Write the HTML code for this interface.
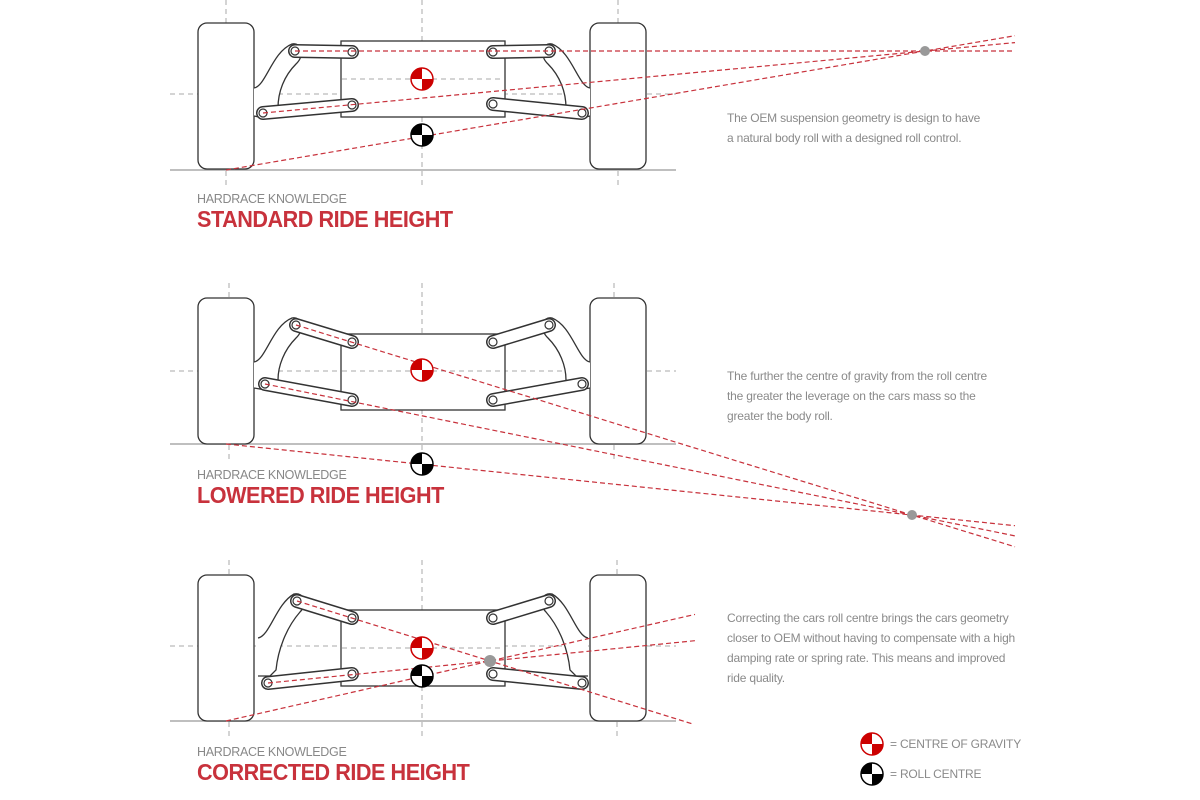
<!DOCTYPE html>
<html><head><meta charset="utf-8"><style>
body{margin:0;background:#fff;width:1200px;height:800px;overflow:hidden;font-family:"Liberation Sans",sans-serif}
svg{position:absolute;left:0;top:0}
.t{position:absolute;color:#8a8a8a;font-size:12px;line-height:20px;letter-spacing:-0.2px}
.k{position:absolute;color:#888;font-size:12.5px;letter-spacing:-0.3px}
.h{position:absolute;color:#c8323c;font-size:23px;font-weight:bold;letter-spacing:-0.5px;transform:scaleX(0.94);transform-origin:left}
</style></head><body>
<svg width="1200" height="800" viewBox="0 0 1200 800">
<defs>
<g id="cg"><circle r="11" fill="#fff" stroke="#c00" stroke-width="1.5"/><path d="M0,0 L-11,0 A11,11 0 0 1 0,-11Z M0,0 L11,0 A11,11 0 0 1 0,11Z" fill="#c00"/></g>
<g id="rc"><circle r="11" fill="#fff" stroke="#000" stroke-width="1.5"/><path d="M0,0 L-11,0 A11,11 0 0 1 0,-11Z M0,0 L11,0 A11,11 0 0 1 0,11Z" fill="#000"/></g>
<g id="wheels" fill="#fff" stroke="#333" stroke-width="1.3">
<rect x="198" y="0" width="56" height="146" rx="9"/><rect x="590" y="0" width="56" height="146" rx="9"/></g>
</defs>
<g stroke="#aaa" stroke-dasharray="5,4" stroke-width="1" fill="none">
<path d="M226,0V185 M422,0V185 M618,0V185 M170,94H676 M229,283V460 M422,283V460 M614,283V460 M170,371H676 M229,560V736 M422,560V736 M617,560V736 M170,646H676"/>
</g>
<g stroke="#999" stroke-width="1.3"><path d="M170,170H676 M170,444H676 M170,721H676"/></g>

<!-- PANEL 1 -->
<use href="#wheels" y="23"/>
<g fill="#fff" stroke="#333" stroke-width="1.3">
<rect x="341" y="41" width="164" height="76"/>
<path d="M254,88 C266,86 272,52 292,44 C302,42 305,56 296,64 C284,76 278,92 278,108 L264,118 L254,116"/>
<path d="M590,88 C578,86 572,52 552,44 C542,42 539,56 548,64 C560,76 566,92 566,108 L580,118 L590,116"/>
</g>
<g stroke-linecap="round" fill="none">
<path d="M295,51L352,52 M493,52L549,51 M263,113L352,105 M493,104L582,113" stroke="#333" stroke-width="14"/>
<path d="M295,51L352,52 M493,52L549,51 M263,113L352,105 M493,104L582,113" stroke="#fff" stroke-width="11"/>
</g>
<g fill="#fff" stroke="#333" stroke-width="1.2"><circle cx="295" cy="51" r="4"/><circle cx="352" cy="52" r="4"/><circle cx="493" cy="52" r="4"/><circle cx="549" cy="51" r="4"/><circle cx="263" cy="113" r="4"/><circle cx="352" cy="105" r="4"/><circle cx="493" cy="104" r="4"/><circle cx="582" cy="113" r="4"/></g>
<path d="M342,79H502" stroke="#aaa" stroke-dasharray="5,4"/>
<g stroke="#c8323c" stroke-dasharray="5,3" stroke-width="1.2" fill="none">
<path d="M295,51L1015,51 M263,113L1015,42.6 M226,170L1015,35.7"/>
</g>
<circle cx="925" cy="51" r="5" fill="#999"/>
<use href="#cg" x="422" y="79"/><use href="#rc" x="422" y="135"/>

<!-- PANEL 2 -->
<use href="#wheels" y="298"/>
<g fill="#fff" stroke="#333" stroke-width="1.3">
<rect x="341" y="334" width="164" height="76"/>
<path d="M254,362 C266,360 272,326 292,318 C302,316 305,330 296,338 C284,350 278,366 278,380 L266,390 L254,388"/>
<path d="M590,362 C578,360 572,326 552,318 C542,316 539,330 548,338 C560,350 566,366 566,380 L578,390 L590,388"/>
</g>
<g stroke-linecap="round" fill="none">
<path d="M296,325L352,342 M493,342L549,325 M265,384L352,400 M493,400L582,384" stroke="#333" stroke-width="14"/>
<path d="M296,325L352,342 M493,342L549,325 M265,384L352,400 M493,400L582,384" stroke="#fff" stroke-width="11"/>
</g>
<g fill="#fff" stroke="#333" stroke-width="1.2"><circle cx="296" cy="325" r="4"/><circle cx="352" cy="342" r="4"/><circle cx="493" cy="342" r="4"/><circle cx="549" cy="325" r="4"/><circle cx="265" cy="384" r="4"/><circle cx="352" cy="400" r="4"/><circle cx="493" cy="400" r="4"/><circle cx="582" cy="384" r="4"/></g>
<path d="M342,371H502" stroke="#aaa" stroke-dasharray="5,4"/>
<g stroke="#c8323c" stroke-dasharray="5,3" stroke-width="1.2" fill="none">
<path d="M296,325L1015,546.8 M265,384L1015,535.9 M226,444L1015,525.7"/>
</g>
<circle cx="912" cy="515" r="5" fill="#999"/>
<use href="#cg" x="422" y="370"/><use href="#rc" x="422" y="464"/>

<!-- PANEL 3 -->
<use href="#wheels" y="575"/>
<g fill="#fff" stroke="#333" stroke-width="1.3">
<rect x="341" y="610" width="164" height="76"/>
<path d="M258,638 C270,636 276,604 294,594 C304,592 308,604 300,612 C286,628 278,650 276,670 L270,676 L258,676"/>
<path d="M588,638 C576,636 570,604 552,594 C542,592 538,604 546,612 C560,628 568,650 570,670 L576,676 L588,676"/>
</g>
<g stroke-linecap="round" fill="none">
<path d="M297,601L352,618 M493,618L549,601 M268,683L352,674 M493,674L582,683" stroke="#333" stroke-width="14"/>
<path d="M297,601L352,618 M493,618L549,601 M268,683L352,674 M493,674L582,683" stroke="#fff" stroke-width="11"/>
</g>
<g fill="#fff" stroke="#333" stroke-width="1.2"><circle cx="297" cy="601" r="4"/><circle cx="352" cy="618" r="4"/><circle cx="493" cy="618" r="4"/><circle cx="549" cy="601" r="4"/><circle cx="268" cy="683" r="4"/><circle cx="352" cy="674" r="4"/><circle cx="493" cy="674" r="4"/><circle cx="582" cy="683" r="4"/></g>
<path d="M342,648H502" stroke="#aaa" stroke-dasharray="5,4"/>
<g stroke="#c8323c" stroke-dasharray="5,3" stroke-width="1.2" fill="none">
<path d="M297,601L692,723.8 M268,683L695,640.7 M226,721L695,614.4"/>
</g>
<circle cx="490" cy="661" r="6" fill="#999"/>
<use href="#cg" x="422" y="648"/><use href="#rc" x="422" y="676"/>

<use href="#cg" x="872" y="744"/><use href="#rc" x="872" y="774"/>
</svg>

<div class="k" style="left:197px;top:192px">HARDRACE KNOWLEDGE</div>
<div class="h" style="left:197px;top:206px">STANDARD RIDE HEIGHT</div>
<div class="k" style="left:197px;top:468px">HARDRACE KNOWLEDGE</div>
<div class="h" style="left:197px;top:482px">LOWERED RIDE HEIGHT</div>
<div class="k" style="left:197px;top:745px">HARDRACE KNOWLEDGE</div>
<div class="h" style="left:197px;top:759px">CORRECTED RIDE HEIGHT</div>

<div class="t" style="left:727px;top:108px">The OEM suspension geometry is design to have<br>a natural body roll with a designed roll control.</div>
<div class="t" style="left:727px;top:366px">The further the centre of gravity from the roll centre<br>the greater the leverage on the cars mass so the<br>greater the body roll.</div>
<div class="t" style="left:727px;top:608px">Correcting the cars roll centre brings the cars geometry<br>closer to OEM without having to compensate with a high<br>damping rate or spring rate. This means and improved<br>ride quality.</div>
<div class="t" style="left:890px;top:734px">= CENTRE OF GRAVITY</div>
<div class="t" style="left:890px;top:764px">= ROLL CENTRE</div>
</body></html>
